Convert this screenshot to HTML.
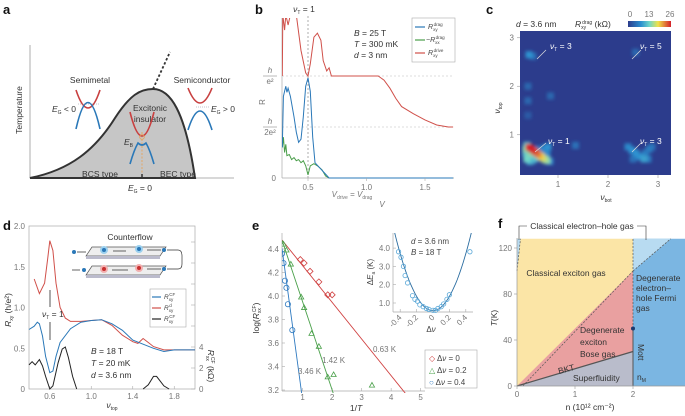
<!DOCTYPE html>
<html><head><meta charset="utf-8">
<style>
html,body{margin:0;padding:0;background:#fff;overflow:hidden;width:685px;height:416px;}
svg{display:block;font-family:"Liberation Sans",sans-serif;}
text{fill:#444;}
.lt{font-weight:bold;font-size:13px;fill:#111;}
.tk{font-size:8px;fill:#777;}
.lb{font-size:8.5px;fill:#333;}
.wt{fill:#fff;font-size:8.5px;}
</style></head>
<body>
<svg id="fig" width="685" height="416" viewBox="0 0 685 416">
<defs>
<filter id="blur" x="-20%" y="-20%" width="140%" height="140%"><feGaussianBlur stdDeviation="1.6"/></filter>
<clipPath id="clipB"><rect x="282" y="18" width="172" height="162"/></clipPath>
<clipPath id="clipC"><rect x="520" y="31" width="151" height="144"/></clipPath>
<clipPath id="clipE"><rect x="282" y="233" width="160" height="160"/></clipPath>
<clipPath id="clipEi"><rect x="393" y="233" width="80" height="80"/></clipPath>
<linearGradient id="cbar" x1="0" x2="1"><stop offset="0" stop-color="#2c3c8c"/><stop offset="0.3" stop-color="#2a8fd0"/><stop offset="0.5" stop-color="#6fd6c8"/><stop offset="0.7" stop-color="#f0e24a"/><stop offset="1" stop-color="#d4202a"/></linearGradient>
</defs>

<text class="lt" x="3" y="14">a</text>
<text class="lt" x="255" y="14">b</text>
<text class="lt" x="486" y="14">c</text>
<text class="lt" x="3" y="230">d</text>
<text class="lt" x="252" y="230">e</text>
<text class="lt" x="498" y="228">f</text>

<!-- PANEL A -->
<g id="pa">
<line x1="30" y1="45" x2="30" y2="178" stroke="#999" stroke-width="0.8"/>
<line x1="30" y1="178" x2="234" y2="178" stroke="#999" stroke-width="0.8"/>
<path d="M30,178 C70,170 95,150 115,118 C130,95 140,89 153,89 C170,89 185,110 195,178 Z" fill="#c6c6c6" stroke="#333" stroke-width="2"/>
<line x1="153" y1="89" x2="170" y2="52" stroke="#333" stroke-width="1.8" stroke-dasharray="2.5,2"/>
<text x="22" y="110" class="lb" transform="rotate(-90 22 110)" text-anchor="middle">Temperature</text>
<text x="90" y="83" class="lb" text-anchor="middle">Semimetal</text>
<text x="202" y="83" class="lb" text-anchor="middle">Semiconductor</text>
<text x="150" y="111" class="lb" text-anchor="middle">Excitonic</text>
<text x="150" y="122" class="lb" text-anchor="middle">insulator</text>
<text x="100" y="177" class="lb" text-anchor="middle">BCS type</text>
<text x="178" y="177" class="lb" text-anchor="middle">BEC type</text>
<text x="140" y="191" class="lb" text-anchor="middle"><tspan font-style="italic">E</tspan><tspan font-size="5" dy="2">G</tspan><tspan dy="-2"> = 0</tspan></text>
<text x="52" y="112" class="lb"><tspan font-style="italic">E</tspan><tspan font-size="5" dy="2">G</tspan><tspan dy="-2"> &lt; 0</tspan></text>
<text x="211" y="112" class="lb"><tspan font-style="italic">E</tspan><tspan font-size="5" dy="2">G</tspan><tspan dy="-2"> &gt; 0</tspan></text>
<text x="124" y="145" class="lb"><tspan font-style="italic">E</tspan><tspan font-size="5" dy="2">B</tspan></text>
<line x1="142" y1="132" x2="142" y2="178" stroke="#e8a050" stroke-width="0.8" stroke-dasharray="2,1.5"/>
<line x1="142" y1="174" x2="142" y2="178" stroke="#333" stroke-width="1.5"/>
<path d="M76,90 Q88,126 100,90" fill="none" stroke="#c84040" stroke-width="1.6"/>
<path d="M76,129 Q88,76 100,129" fill="none" stroke="#2a78b8" stroke-width="1.6"/>
<line x1="78" y1="104" x2="100" y2="104" stroke="#889" stroke-width="0.5" stroke-dasharray="1,1"/>
<path d="M188,88 Q200,118 212,88" fill="none" stroke="#c84040" stroke-width="1.6"/>
<path d="M188,130 Q200,92 212,130" fill="none" stroke="#2a78b8" stroke-width="1.6"/>
<line x1="196" y1="107" x2="210" y2="107" stroke="#889" stroke-width="0.5" stroke-dasharray="1,1"/>
<path d="M130,112 Q142,160 154,112" fill="none" stroke="#c84040" stroke-width="1.6"/>
<path d="M130,164 Q134,150 138,143 Q142,147 146,143 Q150,150 154,164" fill="none" stroke="#2a78b8" stroke-width="1.6"/>
<circle cx="142" cy="137" r="2.3" fill="none" stroke="#e8a050" stroke-width="0.8"/>
</g>

<!-- PANEL B -->
<g id="pb">
<line x1="282" y1="18" x2="282" y2="178" stroke="#aaa" stroke-width="0.7"/>
<line x1="282" y1="178" x2="454" y2="178" stroke="#aaa" stroke-width="0.7"/>
<g id="bGrid"></g>
<g id="bSeries" clip-path="url(#clipB)"></g>
<g id="bTicks"></g>
<text x="265" y="102" class="tk" text-anchor="middle" transform="rotate(-90 265 102)" font-size="7">R</text>
<text x="304" y="12" class="lb" text-anchor="middle"><tspan font-style="italic">ν</tspan><tspan font-size="5" dy="2">T</tspan><tspan dy="-2"> = 1</tspan></text>
<text x="354" y="36" class="lb"><tspan font-style="italic">B</tspan> = 25 T</text>
<text x="354" y="47" class="lb"><tspan font-style="italic">T</tspan> = 300 mK</text>
<text x="354" y="58" class="lb"><tspan font-style="italic">d</tspan> = 3 nm</text>
<text x="352" y="197" class="tk" text-anchor="middle"><tspan font-style="italic">V</tspan><tspan font-size="5" dy="2">drive</tspan><tspan dy="-2"> = </tspan><tspan font-style="italic">V</tspan><tspan font-size="5" dy="2">drag</tspan></text>
<text x="382" y="207" class="tk" text-anchor="middle" font-style="italic">V</text>
<rect x="412" y="18" width="43" height="44" fill="#fff" stroke="#aaa" stroke-width="0.6"/>
<line x1="415" y1="27" x2="425" y2="27" stroke="#2a78b8" stroke-width="1.2"/>
<text x="428" y="29" font-size="7"><tspan font-style="italic">R</tspan><tspan font-size="4.5" dy="2">xy</tspan><tspan font-size="4.5" dy="-5" dx="-4">drag</tspan></text>
<line x1="415" y1="40" x2="425" y2="40" stroke="#4a9e4a" stroke-width="1.2"/>
<text x="426" y="42" font-size="7">−<tspan font-style="italic">R</tspan><tspan font-size="4.5" dy="2">xx</tspan><tspan font-size="4.5" dy="-5" dx="-4">drag</tspan></text>
<line x1="415" y1="53" x2="425" y2="53" stroke="#d0504a" stroke-width="1.2"/>
<text x="428" y="55" font-size="7"><tspan font-style="italic">R</tspan><tspan font-size="4.5" dy="2">xy</tspan><tspan font-size="4.5" dy="-5" dx="-4">drive</tspan></text>
</g>

<!-- PANEL C -->
<g id="pc">
<rect x="520" y="31" width="151" height="144" fill="#2c3c8c"/>
<g id="cCells" clip-path="url(#clipC)"><g filter="url(#blur)" id="cCellsInner"></g></g>
<g id="cTicks"></g>
<rect x="628" y="21" width="43" height="6" fill="url(#cbar)"/>
<text x="630" y="17" class="tk" text-anchor="middle">0</text>
<text x="649" y="17" class="tk" text-anchor="middle">13</text>
<text x="670" y="17" class="tk" text-anchor="middle">26</text>
<text x="516" y="27" class="lb"><tspan font-style="italic">d</tspan> = 3.6 nm</text>
<text x="575" y="27" class="lb"><tspan font-style="italic">R</tspan><tspan font-size="5" dy="2">xy</tspan><tspan font-size="5" dy="-5" dx="-4">drag</tspan><tspan dy="3"> (kΩ)</tspan></text>
<text x="500" y="108" class="lb" text-anchor="middle" transform="rotate(-90 500 108)"><tspan font-style="italic">ν</tspan><tspan font-size="5" dy="2">top</tspan></text>
<text x="606" y="200" class="lb" text-anchor="middle"><tspan font-style="italic">ν</tspan><tspan font-size="5" dy="2">bot</tspan></text>
<g stroke="#ddd" stroke-width="0.7">
<line x1="537" y1="59" x2="546" y2="50"/><line x1="632" y1="59" x2="641" y2="50"/>
<line x1="535" y1="152" x2="546" y2="143"/><line x1="632" y1="152" x2="641" y2="143"/>
</g>
<text x="550" y="49" class="wt"><tspan font-style="italic">ν</tspan><tspan font-size="5" dy="2">T</tspan><tspan dy="-2"> = 3</tspan></text>
<text x="640" y="49" class="wt"><tspan font-style="italic">ν</tspan><tspan font-size="5" dy="2">T</tspan><tspan dy="-2"> = 5</tspan></text>
<text x="548" y="144" class="wt"><tspan font-style="italic">ν</tspan><tspan font-size="5" dy="2">T</tspan><tspan dy="-2"> = 1</tspan></text>
<text x="640" y="144" class="wt"><tspan font-style="italic">ν</tspan><tspan font-size="5" dy="2">T</tspan><tspan dy="-2"> = 3</tspan></text>
</g>

<!-- PANEL D -->
<g id="pd">
<rect x="29" y="226" width="166" height="163" fill="none" stroke="#aaa" stroke-width="0.7"/>
<g id="dTicks"></g>
<g id="dSeries"></g>
<line x1="50" y1="290" x2="50" y2="307" stroke="#555" stroke-width="1"/>
<line x1="50" y1="322" x2="50" y2="340" stroke="#555" stroke-width="1"/>
<text x="42" y="317" class="lb"><tspan font-style="italic">ν</tspan><tspan font-size="5" dy="2">T</tspan><tspan dy="-2"> = 1</tspan></text>
<text x="11" y="310" class="lb" text-anchor="middle" transform="rotate(-90 11 310)"><tspan font-style="italic">R</tspan><tspan font-size="5" dy="2">xy</tspan><tspan dy="-2"> (h/e²)</tspan></text>
<text x="208" y="366" class="lb" text-anchor="middle" transform="rotate(90 208 366)"><tspan font-style="italic">R</tspan><tspan font-size="5" dy="2">xx</tspan><tspan font-size="5" dy="-5" dx="-4">CF</tspan><tspan dy="3"> (kΩ)</tspan></text>
<text x="112" y="408" class="lb" text-anchor="middle"><tspan font-style="italic">ν</tspan><tspan font-size="5" dy="2">top</tspan></text>
<text x="91" y="354" class="lb"><tspan font-style="italic">B</tspan> = 18 T</text>
<text x="91" y="366" class="lb"><tspan font-style="italic">T</tspan> = 20 mK</text>
<text x="91" y="378" class="lb"><tspan font-style="italic">d</tspan> = 3.6 nm</text>
<g>
<text x="130" y="240" class="lb" text-anchor="middle">Counterflow</text>
<polygon points="86,256 160,256 166,247 92,247" fill="#eee" stroke="#555" stroke-width="0.7"/>
<rect x="86" y="256" width="74" height="3" fill="#bbc"/>
<polygon points="86,275 160,275 166,266 92,266" fill="#eee" stroke="#555" stroke-width="0.7"/>
<rect x="86" y="275" width="74" height="3" fill="#bbc"/>
<circle cx="104" cy="250" r="4" fill="#9cd0ee"/><circle cx="104" cy="250" r="2" fill="#2a78b8"/>
<circle cx="139" cy="249" r="4" fill="#9cd0ee"/><circle cx="139" cy="249" r="2" fill="#2a78b8"/>
<circle cx="104" cy="269" r="4" fill="#f2b0b0"/><circle cx="104" cy="269" r="2" fill="#c83030"/>
<circle cx="139" cy="268" r="4" fill="#f2b0b0"/><circle cx="139" cy="268" r="2" fill="#c83030"/>
<circle cx="74" cy="252" r="2" fill="#2a78b8"/><circle cx="164" cy="250" r="2" fill="#2a78b8"/>
<circle cx="84" cy="270" r="2" fill="#2a78b8"/><circle cx="164" cy="269" r="2" fill="#2a78b8"/>
<path d="M77,252 H86 M113,251 H126 M147,250 H161 M167,250 H178 Q182,250 182,256 V264 Q182,269 178,269 H167 M161,269 H147 M128,270 H112 M80,270 H72" fill="none" stroke="#333" stroke-width="0.7"/>
</g>
<rect x="150" y="289" width="36" height="38" fill="#fff" stroke="#aaa" stroke-width="0.6"/>
<line x1="152" y1="297" x2="161" y2="297" stroke="#2a78b8" stroke-width="1.2"/>
<text x="164" y="299" font-size="6.5"><tspan font-style="italic">R</tspan><tspan font-size="4.5" dy="2">xy</tspan><tspan font-size="4.5" dy="-5" dx="-4">CF</tspan></text>
<line x1="152" y1="308" x2="161" y2="308" stroke="#d0504a" stroke-width="1.2"/>
<text x="164" y="310" font-size="6.5"><tspan font-style="italic">R</tspan><tspan font-size="4.5" dy="2">xy</tspan><tspan font-size="4.5" dy="-5" dx="-4">d</tspan></text>
<line x1="152" y1="319" x2="161" y2="319" stroke="#222" stroke-width="1.2"/>
<text x="164" y="321" font-size="6.5"><tspan font-style="italic">R</tspan><tspan font-size="4.5" dy="2">xy</tspan><tspan font-size="4.5" dy="-5" dx="-4">CF</tspan></text>
</g>

<!-- PANEL E -->
<g id="pe">
<line x1="282" y1="233" x2="282" y2="391" stroke="#aaa" stroke-width="0.7"/>
<line x1="282" y1="391" x2="425" y2="391" stroke="#aaa" stroke-width="0.7"/>
<g id="eTicks"></g>
<g id="eSeries" clip-path="url(#clipE)"></g>
<text x="259" y="318" class="lb" text-anchor="middle" transform="rotate(-90 259 318)">log(<tspan font-style="italic">R</tspan><tspan font-size="5" dy="2">xx</tspan><tspan font-size="5" dy="-5" dx="-4">CF</tspan><tspan dy="3">)</tspan></text>
<text x="356" y="411" class="lb" text-anchor="middle">1/<tspan font-style="italic">T</tspan></text>
<text x="373" y="352" class="tk">0.63 K</text>
<text x="322" y="363" class="tk">1.42 K</text>
<text x="298" y="374" class="tk">3.46 K</text>
<rect x="425" y="350" width="52" height="38" fill="#fff" stroke="#aaa" stroke-width="0.6"/>
<text x="429" y="361" font-size="8"><tspan style="fill:#d04040">◇</tspan> Δ<tspan font-style="italic">ν</tspan> = 0</text>
<text x="429" y="373" font-size="8"><tspan style="fill:#4aa04a">△</tspan> Δ<tspan font-style="italic">ν</tspan> = 0.2</text>
<text x="429" y="385" font-size="8"><tspan style="fill:#2f7ac0">○</tspan> Δ<tspan font-style="italic">ν</tspan> = 0.4</text>
<rect x="393" y="226" width="92" height="88" fill="#fff"/>
<line x1="393" y1="233" x2="393" y2="312" stroke="#aaa" stroke-width="0.7"/>
<line x1="393" y1="312" x2="473" y2="312" stroke="#aaa" stroke-width="0.7"/>
<g id="eiTicks"></g>
<g id="eiSeries" clip-path="url(#clipEi)"></g>
<text x="411" y="244" font-size="8"><tspan font-style="italic">d</tspan> = 3.6 nm</text>
<text x="411" y="255" font-size="8"><tspan font-style="italic">B</tspan> = 18 T</text>
<text x="373" y="272" font-size="8" text-anchor="middle" transform="rotate(-90 373 272)">Δ<tspan font-style="italic">E</tspan><tspan font-size="5" dy="2">a</tspan><tspan dy="-2"> (K)</tspan></text>
<text x="431" y="332" font-size="8" text-anchor="middle">Δ<tspan font-style="italic">ν</tspan></text>
</g>

<!-- PANEL F -->
<g id="pf">
<g id="fRegions"></g>
<line x1="517" y1="238" x2="517" y2="386" stroke="#999" stroke-width="0.7"/>
<line x1="517" y1="386" x2="685" y2="386" stroke="#999" stroke-width="0.7"/>
<g id="fTicks"></g>
<text x="497" y="318" class="lb" text-anchor="middle" transform="rotate(-90 497 318)"><tspan font-style="italic">T</tspan>(K)</text>
<text x="590" y="410" class="lb" text-anchor="middle">n (10¹² cm⁻²)</text>
<path d="M519,240 V226 H527 M637,226 H646 V240" fill="none" stroke="#333" stroke-width="0.6"/>
<text x="582" y="229" class="lb" text-anchor="middle">Classical electron–hole gas</text>
<text x="566" y="276" class="lb" text-anchor="middle">Classical exciton gas</text>
<text x="636" y="281" class="lb">Degenerate</text>
<text x="636" y="291" class="lb">electron–</text>
<text x="636" y="301" class="lb">hole Fermi</text>
<text x="636" y="311" class="lb">gas</text>
<text x="580" y="333" class="lb">Degenerate</text>
<text x="580" y="345" class="lb">exciton</text>
<text x="580" y="357" class="lb">Bose gas</text>
<text x="559" y="374" class="lb" transform="rotate(-15 559 374)">BKT</text>
<text x="573" y="381" class="lb">Superfluidity</text>
<text x="638" y="344" class="lb" transform="rotate(90 638 344)">Mott</text>
<text x="637" y="380" class="lb">n<tspan font-size="5" dy="2">M</tspan></text>
</g>
</svg>

<script>
var NS = "http://www.w3.org/2000/svg";
function mk(parent, tag, attrs) {
  var e = document.createElementNS(NS, tag);
  for (var k in attrs) e.setAttribute(k, attrs[k]);
  parent.appendChild(e);
  return e;
}
function txt(parent, x, y, s, anchor, cls) {
  var t = mk(parent, "text", {x: x, y: y, "text-anchor": anchor || "middle", "class": cls || "tk"});
  t.textContent = s;
  return t;
}

/* ---------- Panel b data ---------- */
var bNuRed = [0.28,0.285,0.30,0.31,0.33,0.35,0.40,0.44,0.48,0.50,0.52,0.55,0.58,0.61,0.63,0.66,0.68,0.70,1.0,1.1,1.15,1.2,1.25,1.3,1.4,1.5,1.6,1.7,1.74];
var bRed   = [1.0,1.6,1.45,1.6,1.5,1.6,1.6,1.25,1.03,1.0,1.12,1.38,1.42,1.35,1.15,1.05,1.08,1.0,1.0,1.0,0.96,0.88,0.78,0.7,0.63,0.57,0.52,0.5,0.5];
var bNuBlue = [0.28,0.29,0.30,0.31,0.32,0.33,0.35,0.38,0.40,0.42,0.44,0.46,0.48,0.50,0.52,0.54,0.56,0.60,0.64,0.68,1.74];
var bBlue   = [0.3,0.8,0.85,0.9,0.84,0.88,0.8,0.6,0.45,0.35,0.38,0.6,0.9,0.98,0.85,0.4,0.15,0.1,0.05,0.0,0.0];
var bNuGreen = [0.28,0.29,0.30,0.31,0.32,0.34,0.36,0.38,0.40,0.42,0.44,0.46,0.48,0.50,0.52,0.55,0.58,0.62,0.65,0.68,1.74];
var bGreen   = [0.3,0.4,0.25,0.33,0.22,0.23,0.18,0.2,0.17,0.18,0.15,0.17,0.12,0.03,0.12,0.14,0.12,0.08,0.02,0,0];
var bXTicks = [0.5,1.0,1.5];
var bXTickLabels = ["0.5","1.0","1.5"];

function bx(v){ return 308 + (v-0.5)*117; }
function by(r){ return 178 - r*102; }
(function(){
  var g = document.getElementById("bGrid");
  [1,0.5].forEach(function(r){
    var l = mk(g,"line",{x1:282,x2:454,y1:by(r),y2:by(r),stroke:"#bbb","stroke-width":0.6,"stroke-dasharray":"2,2"});
    
    
  });
  var vl = mk(g,"line",{x1:bx(0.5),x2:bx(0.5),y1:16,y2:178,stroke:"#999","stroke-width":0.8,"stroke-dasharray":"2,2"});
  
  
  var s = document.getElementById("bSeries");
  function line(xs, ys, col, name){
    var d = xs.map(function(v,i){ return (i?"L":"M")+bx(v).toFixed(1)+","+by(ys[i]).toFixed(1); }).join("");
    var p = mk(s,"path",{d:d,fill:"none",stroke:col,"stroke-width":1});
    
    
  }
  line(bNuRed,bRed,"#d0504a","b-series-drive");
  line(bNuGreen,bGreen,"#4a9e4a","b-series-drag-xx");
  line(bNuBlue,bBlue,"#2a78b8","b-series-drag-xy");
  var t = document.getElementById("bTicks");
  bXTicks.forEach(function(v,i){
    mk(t,"line",{x1:bx(v),x2:bx(v),y1:178,y2:181,stroke:"#aaa","stroke-width":0.6});
    var e = txt(t,bx(v),190,bXTickLabels[i]);
    
    
  });
  var z = txt(t,276,181,"0","end");
  
  
  [[76,"h","e²"],[127,"h","2e²"]].forEach(function(q){
    var a = txt(t,270,q[0]-3,q[1]); a.setAttribute("font-style","italic");
    
    
    mk(t,"line",{x1:263,x2:277,y1:q[0],y2:q[0],stroke:"#777","stroke-width":0.5});
    var b = txt(t,270,q[0]+8,q[2]);
    
    
  });
})();

/* ---------- Panel c data ---------- */
var cBot = [0.42,0.48,0.54,0.60,0.66,0.72,0.78,0.38,0.36,0.36,0.38,0.44,0.50,0.80,0.74,0.44,0.50,0.56,0.62,0.70,0.78,0.84,2.40,2.48,2.56,2.64,2.72,2.80,2.75,2.82,2.88,2.50,0.42,0.50,2.55,0.40,0.40,0.85,1.35,0.40];
var cTop = [0.74,0.70,0.65,0.60,0.55,0.50,0.47,0.78,0.70,0.62,0.50,0.45,0.48,0.75,0.72,0.62,0.56,0.52,0.70,0.65,0.60,0.45,0.75,0.68,0.62,0.55,0.50,0.50,0.62,0.70,0.75,0.50,2.65,2.62,2.70,2.00,1.70,1.80,0.78,1.40];
var cVal = [26,26,24,22,19,16,14,12,14,11,13,10,10,8,7,14,12,11,6,7,7,7,7,8,8,8,9,6,6,6,5,5,8,5,4,4,4,4,5,3];
var cXTicks = [1,2,3];
var cYTicks = [1,2,3];
function cx(v){ return 520 + (v-0.24)*50; }
function cy(v){ return 175 - (v-0.17)*48.5; }
function cmap(v){
  var stops = [[0,[44,60,140]],[0.3,[42,143,208]],[0.5,[111,214,200]],[0.7,[240,226,74]],[1,[212,32,42]]];
  var f = Math.max(0,Math.min(1,v/26));
  for (var i=1;i<stops.length;i++){
    if (f<=stops[i][0]){
      var a=stops[i-1],b=stops[i],t=(f-a[0])/(b[0]-a[0]);
      return "rgb("+[0,1,2].map(function(k){return Math.round(a[1][k]+(b[1][k]-a[1][k])*t);}).join(",")+")";
    }
  }
  return "rgb(212,32,42)";
}
(function(){
  var g = document.getElementById("cCellsInner");
  var order = cVal.map(function(v,i){return i;}).sort(function(a,b){return cVal[a]-cVal[b];});
  order.forEach(function(i){
    var r = mk(g,"rect",{x:cx(cBot[i])-3.5,y:cy(cTop[i])-3.5,width:7,height:7,fill:cmap(cVal[i])});
    
    
  });
  var t = document.getElementById("cTicks");
  cXTicks.forEach(function(v){
    mk(t,"line",{x1:cx(v),x2:cx(v),y1:175,y2:178,stroke:"#999","stroke-width":0.6});
    var e = txt(t,cx(v),187,String(v));
    
    
  });
  cYTicks.forEach(function(v){
    mk(t,"line",{x1:517,x2:520,y1:cy(v),y2:cy(v),stroke:"#999","stroke-width":0.6});
    var e = txt(t,514,cy(v)+3,String(v),"end");
    
    
  });
})();

/* ---------- Panel d data ---------- */
var dNuRed = [0.45,0.5,0.55,0.58,0.6,0.63,0.66,0.7,0.75,0.8,0.9,1.0,1.1,1.2,1.3,1.4,1.45,1.5,1.55,1.6,1.7,1.8,2.0];
var dRed   = [1.35,1.17,1.3,1.6,1.82,1.7,1.3,1.0,0.87,0.83,0.83,0.84,0.85,0.78,0.66,0.58,0.56,0.62,0.57,0.52,0.48,0.48,0.48];
var dNuBlue = [0.4,0.45,0.48,0.5,0.53,0.56,0.6,0.63,0.66,0.7,0.8,0.9,1.0,1.1,1.2,1.3,1.4,1.5,1.6,1.7,1.8,2.0];
var dBlue   = [0.73,0.77,0.82,0.8,0.65,0.4,0.2,0.22,0.4,0.57,0.74,0.82,0.84,0.85,0.8,0.72,0.6,0.55,0.5,0.46,0.48,0.48];
var dNuBlack = [0.4,0.43,0.46,0.5,0.53,0.56,0.6,0.63,0.68,0.72,0.75,0.78,0.82,0.86];
var dBlack   = [2.3,2.6,2.3,2.8,2.2,1.2,0,0.3,2.5,3.8,4.0,3.0,1.2,0];
var dNuBlack2 = [1.5,1.55,1.6,1.63,1.7,1.75];
var dBlack2   = [0,0.4,1.2,1.2,0.3,0];
var dXTicks = [0.6,1.0,1.4,1.8];
var dYTicks = [0,0.5,1.0,1.5,2.0];
var dY2Ticks = [0,2,4,6,8,10,12,14];
var dY2Labels = ["0","2","4","","","","",""];
function dx(v){ return 29 + (v-0.4)*103.75; }
function dy(r){ return 389 - r*81.5; }
function dy2(k){ return 389 - k*10.5; }
(function(){
  var t = document.getElementById("dTicks");
  dXTicks.forEach(function(v){
    mk(t,"line",{x1:dx(v),x2:dx(v),y1:389,y2:386,stroke:"#aaa","stroke-width":0.6});
    var e = txt(t,dx(v),399,v.toFixed(1));
    
    
  });
  dYTicks.forEach(function(v){
    var e = txt(t,25,dy(v)+3,v===0?"0":v.toFixed(1),"end");
    
    
  });
  dY2Ticks.forEach(function(v,i){
    mk(t,"line",{x1:191,x2:195,y1:dy2(v),y2:dy2(v),stroke:"#aaa","stroke-width":0.6});
    var e = txt(t,199,dy2(v)+3,dY2Labels[i],"start");
    
    
  });
  var s = document.getElementById("dSeries");
  function line(xs, ys, f, col, name){
    var d = xs.map(function(v,i){ return (i?"L":"M")+dx(v).toFixed(1)+","+f(ys[i]).toFixed(1); }).join("");
    var p = mk(s,"path",{d:d,fill:"none",stroke:col,"stroke-width":1});
    
    
  }
  line(dNuBlack,dBlack,dy2,"#222","d-series-cf-xx");
  line(dNuBlack2,dBlack2,dy2,"#222","d-series-cf-xx-2");
  line(dNuRed,dRed,dy,"#d0504a","d-series-d-xy");
  line(dNuBlue,dBlue,dy,"#2a78b8","d-series-cf-xy");
})();

/* ---------- Panel e data ---------- */
var eInvT0 = [0.92,1.05,1.25,1.55,1.85,2.0];
var eLog0  = [4.31,4.28,4.21,4.12,4.01,4.01];
var eInvT2 = [0.35,0.45,0.6,0.95,1.05,1.3,1.55,1.85,2.05,3.35];
var eLog2  = [4.44,4.39,4.27,3.99,3.90,3.68,3.57,3.31,3.33,3.24];
var eInvT4 = [0.3,0.35,0.4,0.45,0.5,0.65];
var eLog4  = [4.36,4.28,4.13,4.07,3.93,3.71];
var eFitIntercept = [4.57,4.70,4.96];
var eFitSlope = [-0.312,-0.75,-1.85];
var eXTicks = [1,2,3,4,5];
var eYTicks = [3.2,3.4,3.6,3.8,4.0,4.2,4.4];
var eiDnu = [-0.42,-0.39,-0.36,-0.34,-0.31,-0.25,-0.22,-0.19,-0.16,-0.12,-0.08,-0.05,0,0.03,0.06,0.1,0.13,0.17,0.2,0.45];
var eiEa  = [3.8,3.5,3.0,2.5,2.1,1.4,1.2,1.1,0.9,0.8,0.7,0.65,0.6,0.6,0.7,0.8,0.95,1.2,1.45,3.8];
var eiFit = [0.58,19.5];
var eiXTicks = [-0.4,-0.2,0,0.2,0.4];
var eiYTicks = [1,2,3,4];
function ex(v){ return 282 + (v-0.3)*29.5; }
function ey(v){ return 390 - (v-3.2)*117.5; }
function eix(v){ return 433 + v*82; }
function eiy(v){ return 303 - (v-1)*18.3; }
(function(){
  var t = document.getElementById("eTicks");
  eXTicks.forEach(function(v){
    mk(t,"line",{x1:ex(v),x2:ex(v),y1:391,y2:388,stroke:"#aaa","stroke-width":0.6});
    var e = txt(t,ex(v),400,String(v));
    
    
  });
  eYTicks.forEach(function(v){
    mk(t,"line",{x1:282,x2:285,y1:ey(v),y2:ey(v),stroke:"#aaa","stroke-width":0.6});
    var e = txt(t,279,ey(v)+3,v.toFixed(1),"end");
    
    
  });
  var s = document.getElementById("eSeries");
  var cols = ["#d04040","#4aa04a","#2f7ac0"];
  eFitIntercept.forEach(function(b,i){
    var x0 = 0.3, x1 = 5;
    var l = mk(s,"line",{x1:ex(x0),y1:ey(b+eFitSlope[i]*x0),x2:ex(x1),y2:ey(b+eFitSlope[i]*x1),stroke:cols[i],"stroke-width":0.9});
    
    
  });
  eInvT0.forEach(function(v,i){
    var x=ex(v),y=ey(eLog0[i]);
    var p = mk(s,"polygon",{points:[x,y-3,x+3,y,x,y+3,x-3,y].join(","),fill:"none",stroke:cols[0],"stroke-width":0.8});
    
    
  });
  eInvT2.forEach(function(v,i){
    var x=ex(v),y=ey(eLog2[i]);
    var p = mk(s,"polygon",{points:[x,y-2.8,x+2.6,y+1.8,x-2.6,y+1.8].join(","),fill:"none",stroke:cols[1],"stroke-width":0.8});
    
    
  });
  eInvT4.forEach(function(v,i){
    var c = mk(s,"circle",{cx:ex(v),cy:ey(eLog4[i]),r:2.6,fill:"none",stroke:cols[2],"stroke-width":0.8});
    
    
  });
  var ti = document.getElementById("eiTicks");
  eiXTicks.forEach(function(v){
    mk(ti,"line",{x1:eix(v),x2:eix(v),y1:312,y2:309,stroke:"#aaa","stroke-width":0.6});
    var e = txt(ti,eix(v)+2,318,v===0?"0":v.toFixed(1),"end");
    e.setAttribute("transform","rotate(-45 "+(eix(v)+2)+" 318)");
    
    
  });
  eiYTicks.forEach(function(v){
    mk(ti,"line",{x1:393,x2:396,y1:eiy(v),y2:eiy(v),stroke:"#aaa","stroke-width":0.6});
    var e = txt(ti,390,eiy(v)+3,v.toFixed(1),"end");
    
    
  });
  var si = document.getElementById("eiSeries");
  var d = "";
  for (var k=0;k<=60;k++){ var v=-0.55+k*1.1/60; d += (k?"L":"M")+eix(v).toFixed(1)+","+eiy(eiFit[0]+eiFit[1]*v*v).toFixed(1); }
  var p = mk(si,"path",{d:d,fill:"none",stroke:"#2a6ca0","stroke-width":0.9});
  
  
  eiDnu.forEach(function(v,i){
    var c = mk(si,"circle",{cx:eix(v),cy:eiy(eiEa[i]),r:2.2,fill:"none",stroke:"#5aa8d8","stroke-width":0.8});
    
    
  });
})();

/* ---------- Panel f data ---------- */
var fXTicks = [0,1,2];
var fYTicks = [0,40,80,120];
var fMottN = [2];
var fMottT = [50];
var fBktT = [30];
var fDegT = [100];
function fx(n){ return 517 + n*58; }
function fy(t){ return 386 - t*1.15; }
(function(){
  var g = document.getElementById("fRegions");
  var nM = fMottN[0];
  function poly(pts, fill, name){
    var p = mk(g,"polygon",{points:pts.map(function(q){return fx(q[0]).toFixed(1)+","+fy(q[1]).toFixed(1);}).join(" "),fill:fill});
    
    
  }
  poly([[0,0],[nM,0],[nM,128],[0,128]],"#fbe5a6","classical-exciton-region");
  poly([[0,0],[nM,fDegT[0]],[nM,fBktT[0]]],"#e9a0a0","degenerate-bose-region");
  poly([[0,0],[nM,fBktT[0]],[nM,0]],"#b9bccb","superfluid-region");
  poly([[nM,0],[2.9,0],[2.9,128],[nM,128]],"#7bb6e2","fermi-gas-region");
  poly([[nM,fDegT[0]],[2.65,128],[nM,128]],"#b8dbf1","classical-eh-region-right");
  poly([[0,100],[0.06,128],[0,128]],"#b8dbf1","classical-eh-region-left");
  function ln(a,b,dash,name,w){
    var l = mk(g,"line",{x1:fx(a[0]),y1:fy(a[1]),x2:fx(b[0]),y2:fy(b[1]),stroke:"#555","stroke-width":w||0.7});
    if (dash) l.setAttribute("stroke-dasharray","2,1.5");
    
    
  }
  ln([0.1,0],[nM,fDegT[0]],true,"degeneracy-boundary");
  ln([nM,fDegT[0]],[2.65,128],true,"fermi-degeneracy-boundary");
  ln([0,100],[0.06,128],true,"classical-eh-boundary-left");
  ln([nM,fMottT[0]],[nM,128],true,"mott-boundary-dashed");
  ln([nM,0],[nM,fMottT[0]],false,"mott-boundary-solid",1);
  ln([0,0],[nM,fBktT[0]],false,"bkt-boundary",1.2);
  var dot = mk(g,"circle",{cx:fx(nM),cy:fy(fMottT[0]),r:2,fill:"#1a3a70"});
  
  
  var t = document.getElementById("fTicks");
  fXTicks.forEach(function(v){
    mk(t,"line",{x1:fx(v),x2:fx(v),y1:386,y2:389,stroke:"#999","stroke-width":0.6});
    var e = txt(t,fx(v),397,String(v));
    
    
  });
  fYTicks.forEach(function(v){
    mk(t,"line",{x1:514,x2:517,y1:fy(v),y2:fy(v),stroke:"#999","stroke-width":0.6});
    var e = txt(t,512,fy(v)+3,String(v),"end");
    
    
  });
})();
</script>
</body></html>
